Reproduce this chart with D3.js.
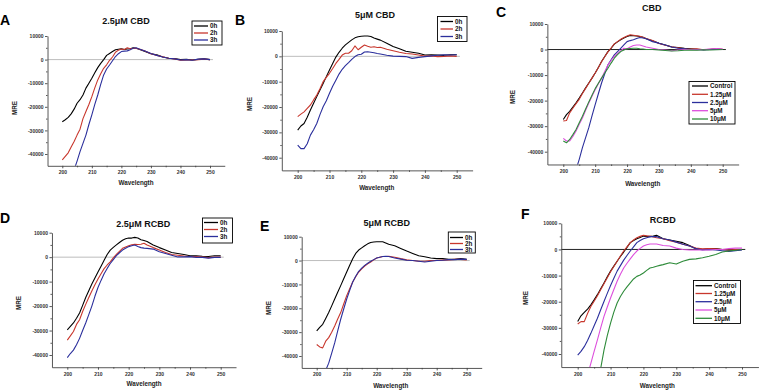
<!DOCTYPE html>
<html><head><meta charset="utf-8">
<script src="https://cdn.jsdelivr.net/npm/d3@7"></script>
<style>body{margin:0;background:#fff} svg{display:block} text{font-family:"Liberation Sans",Arial,sans-serif}</style>
</head><body><svg id="c" width="760" height="392"></svg>
<script>
// ---------- data ----------
const wavelength = [200,201,202,203,204,205,206,207,208,209,210,211,212,213,214,215,216,217,218,219,220,221,222,223,224,225,226,228,230,232,234,236,238,240,242,244,246,248,250];
const xTicks = [200,210,220,230,240,250];
const yTicks = [10000,0,-10000,-20000,-30000,-40000];
const timeLabels = ["0h","2h","3h"];
const concLabels = ["Control","1.25μM","2.5μM","5μM","10μM"];
const panelTitles = ["2.5μM CBD","5μM CBD","CBD","2.5μM RCBD","5μM RCBD","RCBD"];
const panelLetters = ["A","B","C","D","E","F"];

const A_0h = [-26300,-25500,-24500,-23000,-21000,-18500,-17000,-15000,-12100,-10000,-7900,-5600,-3400,-1600,0,1800,2600,3400,4200,4400,4600,4300,4500,4600,5000,4800,4400,3400,2500,2000,1100,600,400,0,100,-200,100,300,0];
const A_2h = [-42500,-41000,-39500,-37000,-34700,-32000,-29500,-25000,-22000,-19000,-15700,-12000,-8600,-6000,-3700,-2200,-300,1100,3100,4000,4500,4300,5000,4600,4800,4700,4500,3600,2500,1800,1200,600,300,-300,-100,-200,0,200,0];
const A_3h = [null,null,null,-50000,-46700,-43000,-39000,-35500,-32000,-27500,-23400,-19000,-15000,-10500,-6500,-4000,-2300,-500,1300,2500,3400,3600,3700,4200,4800,5000,4500,3600,2600,1800,1100,600,300,-200,0,-300,200,300,0];

const B_0h = [-29100,-27500,-26500,-24000,-21200,-18500,-15900,-13300,-10700,-8000,-5400,-2800,-300,1600,3200,4500,5500,6500,7300,7700,7900,8000,8000,7800,7200,6800,6400,5200,3900,3000,2000,1600,1200,500,600,500,400,600,600];
const B_2h = [-23800,-22800,-21900,-20500,-19200,-17200,-15300,-12800,-10000,-8300,-6700,-4800,-2800,-1200,500,1200,1200,2200,4100,2600,3600,4500,4000,3600,3800,3500,3600,2800,2200,1600,1100,900,500,100,200,-100,0,200,0];
const B_3h = [-35000,-36400,-36400,-34500,-31100,-29000,-26500,-23000,-19900,-17500,-14600,-11800,-9400,-7000,-5100,-3700,-2500,-1200,-100,600,800,1700,1800,1600,1400,1100,900,400,100,0,-100,-800,-400,-100,200,400,600,500,600];

const C_ctrl = [-27400,-25500,-24200,-22500,-20900,-19000,-17000,-15000,-13100,-11200,-9200,-7000,-4700,-2700,-800,500,2100,3000,3800,4500,5100,5500,5400,5300,5100,4800,4200,3400,2500,1800,1000,800,500,300,100,0,0,200,0];
const C_125 = [-28000,-27800,-24800,-23000,-21200,-19500,-17200,-15200,-13200,-11200,-9200,-7000,-4800,-2800,-900,600,2200,3100,4000,4700,5300,5800,5600,5400,5200,4800,4300,3500,2400,1700,1100,700,300,200,300,-100,100,300,100];
const C_25 = [null,null,null,-51000,-47000,-43000,-38400,-34500,-30600,-26000,-21600,-17300,-13100,-9500,-6000,-4000,-2100,-800,500,1800,3100,3500,3800,4300,4700,4500,4200,3100,2500,1800,1000,500,300,0,0,-200,0,100,0];
const C_5 = [-34800,-35800,-35800,-34000,-31900,-29300,-26800,-23800,-20900,-18300,-15700,-13400,-11200,-8600,-6000,-4300,-2700,-1500,-500,500,300,1000,1600,1800,1800,1400,1000,500,0,-200,-500,-200,0,0,-100,0,200,400,200];
const C_10 = [-35800,-36500,-35200,-33300,-31300,-28700,-26100,-23300,-20500,-17900,-15300,-13200,-11200,-9200,-7300,-5300,-3400,-2000,-800,-200,300,400,500,500,300,200,0,0,-200,-400,-600,-500,-300,-200,-300,-100,-200,-100,0];

const D_0h = [-29700,-28300,-26900,-25000,-22800,-19700,-16500,-13700,-11000,-8500,-6100,-3700,-1300,1100,2900,4000,5000,6000,6900,7500,7800,7800,8100,7800,7100,6800,6400,5000,3900,2900,1900,1500,1100,600,600,400,300,600,600];
const D_2h = [-33900,-32200,-30400,-27500,-25600,-22200,-19300,-16500,-13800,-11300,-8900,-6800,-4700,-3200,-1900,-300,1100,2400,3600,4200,4700,5100,5300,5200,5300,5700,5000,3900,2900,1900,1100,800,500,300,200,0,-200,0,0];
const D_3h = [-41100,-39400,-38000,-35800,-33200,-30000,-26900,-23500,-20000,-16000,-12400,-9500,-6800,-4600,-2600,-1000,600,1800,2900,3600,4300,4700,5000,4400,3900,3700,3600,3300,2200,1500,800,100,100,200,-100,-100,-400,-100,-100];

const E_0h = [-29500,-28000,-26700,-24300,-21800,-19000,-16100,-13300,-10500,-7600,-4800,-2000,800,3000,4400,5300,6200,7000,7600,7800,7900,7900,7900,7400,6800,6500,6200,5100,4000,3000,2000,1600,1100,800,800,500,500,800,500];
const E_2h = [-35200,-36200,-36600,-33800,-32300,-30000,-27400,-24500,-21800,-18200,-14700,-11800,-9000,-6800,-4800,-3500,-2300,-1400,-600,300,1100,1400,1700,1700,1800,1600,1400,800,300,0,-300,-300,0,0,200,300,500,500,300];
const E_3h = [null,null,-49000,-46000,-43000,-38800,-34500,-29500,-24600,-20300,-16100,-12500,-9000,-6600,-4500,-3200,-2000,-1100,-300,400,1100,1400,1700,1800,1700,1400,1100,600,100,0,-300,-600,-300,0,100,400,400,600,500];

const F_ctrl = [-27600,-25400,-24100,-22800,-21200,-19300,-17300,-15000,-12800,-10500,-8300,-6400,-4500,-2700,-1000,800,2600,3400,4100,4600,5100,5000,4900,5100,5400,4800,4100,3600,3100,2600,1500,300,0,300,300,0,-300,-300,0];
const F_125 = [-28500,-27600,-27600,-24500,-21800,-19800,-17700,-15400,-13100,-10800,-8500,-6500,-4500,-2500,-600,1000,2600,3600,4500,5000,5400,5200,5100,4800,4500,4300,4100,3300,2800,2000,1300,500,200,300,200,0,-200,0,0];
const F_25 = [-40400,-39000,-37200,-34800,-32100,-29200,-26300,-23100,-19900,-16800,-13800,-11000,-8300,-6200,-4100,-2300,-600,1000,2600,3400,4100,4500,4900,4900,4900,4500,4100,3600,2800,2000,1300,300,-200,0,-200,-500,-800,-500,-200];
const F_5 = [null,null,null,-48000,-43600,-39000,-34600,-30000,-25600,-22000,-18600,-15300,-12200,-9500,-7100,-5300,-3600,-2000,-600,400,1300,1800,2100,2100,2100,1800,1500,1300,500,0,-200,-200,-200,-200,0,0,300,500,500];
const F_10 = [null,null,null,null,null,null,-52000,-45500,-38500,-33000,-28200,-24000,-20500,-18000,-16000,-14300,-12800,-11300,-10300,-9800,-9000,-8000,-7100,-6800,-6400,-6100,-5800,-5100,-5600,-4500,-3800,-3600,-3200,-2600,-1900,-1000,-600,-300,0];

// ---------- styles / layout ----------
const timeColors = ["#000000","#c8372d","#2b2f9c"];
const concColors = ["#000000","#c8372d","#2b2f9c","#dd4fdd","#2e8b3a"];

const panels = [
  {series:[A_0h,A_2h,A_3h], labels:timeLabels, colors:timeColors, zero:"#bdbdbd",
   L:{x200:62.3,x250:210,y10:36,yM40:154, title:[126,24], letter:[0,25], mre:[15,108], wl:[136,185],
      leg:{x:192,y:21,w:30,h:24,rows:[26,33,40],l1:194,l2:208,t:210}}},
  {series:[B_0h,B_2h,B_3h], labels:timeLabels, colors:timeColors, zero:"#bdbdbd",
   L:{x200:297.7,x250:456.7,y10:31,yM40:157.7, title:[375,17.5], letter:[235,25], mre:[249.5,104], wl:[376.7,190],
      leg:{x:437.5,y:16.5,w:29.5,h:25,rows:[21.5,29,36.5],l1:440.5,l2:453,t:455}}},
  {series:[C_ctrl,C_125,C_25,C_5,C_10], labels:concLabels, colors:concColors, zero:"#222",
   L:{x200:563.3,x250:722.7,y10:24,yM40:151.7, title:[651.7,10.5], letter:[496,17], mre:[513,97], wl:[642.7,185.5],
      leg:{x:689,y:81.5,w:46,h:42.5,rows:[86,94.3,102.5,110.7,119],l1:692,l2:708,t:710}}},
  {series:[D_0h,D_2h,D_3h], labels:timeLabels, colors:timeColors, zero:"#bdbdbd",
   L:{x200:67.3,x250:220.7,y10:232.7,yM40:355, title:[143.3,226.5], letter:[0,223], mre:[19,303], wl:[144,386],
      leg:{x:202.5,y:218,w:30,h:25,rows:[222.5,229.5,236.5],l1:204,l2:218,t:220}}},
  {series:[E_0h,E_2h,E_3h], labels:timeLabels, colors:timeColors, zero:"#bdbdbd",
   L:{x200:316.7,x250:466.7,y10:236.7,yM40:356, title:[386.7,225.5], letter:[260,231], mre:[269,308], wl:[390.7,388],
      leg:{x:448.3,y:232,w:27,h:21,rows:[237.5,243.5,249.5],l1:450,l2:463,t:465}}},
  {series:[F_ctrl,F_125,F_25,F_5,F_10], labels:concLabels, colors:concColors, zero:"#222",
   L:{x200:577.7,x250:742,y10:223.3,yM40:354, title:[662.7,222.5], letter:[521,219], mre:[525.7,298], wl:[657.3,388],
      leg:{x:693.5,y:280.5,w:47,h:43,rows:[285.7,293.5,301.7,310,318.3],l1:695.5,l2:712,t:714}}}
];

const svg = d3.select("#c");
const font = '"Liberation Sans",Arial,sans-serif';
const plainFormat = d => String(d);

panels.forEach((p,pi) => {
  const L = p.L;
  const kx = (L.x250 - L.x200)/50;
  const x = d3.scaleLinear().domain([195,255]).range([L.x200-5*kx, L.x250+5*kx]);
  const ky = (L.yM40 - L.y10)/50000;
  const y = d3.scaleLinear().domain([-45000,10000]).range([L.y10+55000*ky, L.y10]);
  const g = svg.append("g");

  const cid = "clip"+pi;
  svg.append("clipPath").attr("id",cid).append("rect")
    .attr("x",x(195)).attr("y",y(10000)-6)
    .attr("width",x(255)-x(195)).attr("height",y(-45000)-y(10000)+6);

  g.append("line").attr("x1",x(195)).attr("x2",x(251)).attr("y1",y(0)).attr("y2",y(0))
    .attr("stroke",p.zero).attr("stroke-width",1);

  const line = d3.line().defined(d => d[1] != null).x(d => x(d[0])).y(d => y(d[1]));
  const lg = g.append("g").attr("clip-path",`url(#${cid})`);
  p.series.forEach((s,i) => {
    lg.append("path").datum(wavelength.map((w,j) => [w,s[j]]))
      .attr("d",line).attr("fill","none").attr("stroke",p.colors[i])
      .attr("stroke-width",1.1).attr("stroke-linejoin","round");
  });

  // axes
  const xa = g.append("g").attr("transform",`translate(0,${y(-45000)})`)
    .call(d3.axisBottom(x).tickValues(xTicks).tickFormat(plainFormat).tickSize(2.5).tickSizeOuter(0).tickPadding(2.5));
  const xm = g.append("g").attr("transform",`translate(0,${y(-45000)})`)
    .call(d3.axisBottom(x).tickValues(xTicks.slice(0,-1).map(v=>v+5)).tickSize(1.5).tickSizeOuter(0).tickFormat(""));
  xm.select(".domain").remove();
  const ya = g.append("g").attr("transform",`translate(${x(195)},0)`)
    .call(d3.axisLeft(y).tickValues(yTicks).tickFormat(plainFormat).tickSize(2.5).tickSizeOuter(0).tickPadding(1.5));
  const ym = g.append("g").attr("transform",`translate(${x(195)},0)`)
    .call(d3.axisLeft(y).tickValues(yTicks.slice(1).map(v=>v+5000)).tickSize(1.5).tickSizeOuter(0).tickFormat(""));
  ym.select(".domain").remove();
  [xa,ya,xm,ym].forEach(a => {
    a.attr("font-size",5).attr("font-family",font).attr("font-weight","bold");
    a.selectAll("path,line").attr("stroke","#444").attr("stroke-width",0.9);
    a.selectAll("text").attr("fill","#333");
  });

  // texts
  g.append("text").attr("x",L.title[0]).attr("y",L.title[1]).attr("text-anchor","middle")
    .attr("font-size",9).attr("font-weight","bold").attr("fill","#111").text(panelTitles[pi]);
  g.append("text").attr("x",L.letter[0]).attr("y",L.letter[1])
    .attr("font-size",14).attr("font-weight","bold").attr("fill","#000").text(panelLetters[pi]);
  g.append("text").attr("transform",`translate(${L.mre[0]+2.2},${L.mre[1]}) rotate(-90)`).attr("text-anchor","middle")
    .attr("font-size",6.3).attr("font-weight","bold").attr("fill","#222").text("MRE");
  g.append("text").attr("x",L.wl[0]).attr("y",L.wl[1]).attr("text-anchor","middle")
    .attr("font-size",6.3).attr("font-weight","bold").attr("fill","#222").text("Wavelength");

  // legend
  const lgd = L.leg;
  g.append("rect").attr("x",lgd.x).attr("y",lgd.y).attr("width",lgd.w).attr("height",lgd.h)
    .attr("fill","#fff").attr("stroke","#000").attr("stroke-width",0.9);
  p.labels.forEach((lab,i) => {
    g.append("line").attr("x1",lgd.l1).attr("x2",lgd.l2).attr("y1",lgd.rows[i]).attr("y2",lgd.rows[i])
      .attr("stroke",p.colors[i]).attr("stroke-width",1.3);
    g.append("text").attr("x",lgd.t).attr("y",lgd.rows[i]+2.2)
      .attr("font-size",6.3).attr("font-weight","bold").attr("fill","#111").text(lab);
  });
});
</script>
</body></html>
